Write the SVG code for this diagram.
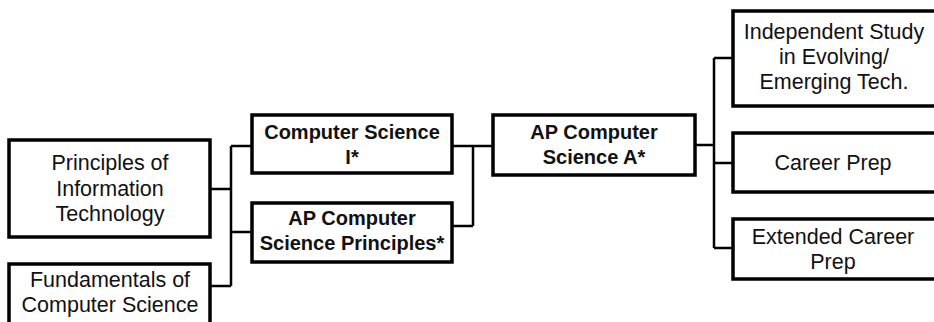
<svg xmlns="http://www.w3.org/2000/svg" width="934" height="322" viewBox="0 0 934 322">
<style>
.box{fill:#fff;stroke:#000;stroke-width:3.5}
.t{font-family:"Liberation Sans",Arial,sans-serif;font-size:21.5px;fill:#111;text-anchor:middle}
.b{font-weight:bold;font-size:20px}
.c{fill:none;stroke:#000;stroke-width:2.5}
</style>
<rect width="934" height="322" fill="#fff"/>
<g id="connectors">
<path class="c" d="M231 146V286M210 189H231M231 146H252M231 232H252M210 286H231"/>
<path class="c" d="M473 146V226M453 146H493M453 226H473"/>
<path class="c" d="M714 58V248M695 145H714M714 58H733M714 163H733M714 248H733"/>
</g>
<g id="principles">
<rect class="box" x="9" y="140" width="201" height="97"/>
<text class="t" x="110" y="170">Principles of</text>
<text class="t" x="110" y="196">Information</text>
<text class="t" x="110" y="221">Technology</text>
</g>
<g id="fundamentals">
<rect class="box" x="9" y="264" width="201" height="70"/>
<text class="t" x="110" y="287">Fundamentals of</text>
<text class="t" x="110" y="312">Computer Science</text>
</g>
<g id="cs1">
<rect class="box" x="252" y="115" width="200" height="58"/>
<text class="t b" x="352" y="139">Computer Science</text>
<text class="t b" x="352" y="164">I*</text>
</g>
<g id="apcsp">
<rect class="box" x="252" y="203" width="200" height="59"/>
<text class="t b" x="352" y="225">AP Computer</text>
<text class="t b" x="352" y="250">Science Principles*</text>
</g>
<g id="apcsa">
<rect class="box" x="493" y="115" width="202" height="60"/>
<text class="t b" x="594" y="139">AP Computer</text>
<text class="t b" x="594" y="164">Science A*</text>
</g>
<g id="independent">
<rect class="box" x="733" y="11" width="210" height="95"/>
<text class="t" x="834" y="39">Independent Study</text>
<text class="t" x="834" y="64">in Evolving/</text>
<text class="t" x="834" y="89">Emerging Tech.</text>
</g>
<g id="careerprep">
<rect class="box" x="733" y="133" width="210" height="59"/>
<text class="t" x="833" y="170">Career Prep</text>
</g>
<g id="extended">
<rect class="box" x="733" y="219" width="210" height="60"/>
<text class="t" x="833" y="244">Extended Career</text>
<text class="t" x="833" y="269">Prep</text>
</g>
</svg>
